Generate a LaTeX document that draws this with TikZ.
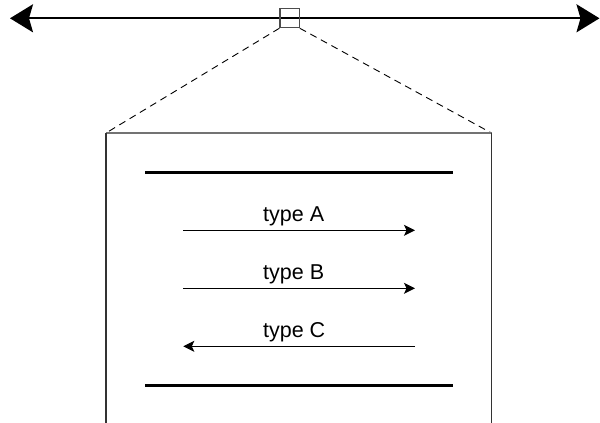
\documentclass[tikz,border=0pt]{standalone}
\usepackage{fontspec}
\setmainfont{Liberation Sans}
\usetikzlibrary{arrows.meta}
\begin{document}
\begin{tikzpicture}[x=1pt,y=-1pt,
  bigline/.style={line width=2pt,{Stealth[length=23pt,width=28pt,inset=4pt]}-{Stealth[length=23pt,width=28pt,inset=4pt]}},
  zoombox/.style={draw=black!70,line width=1.1pt,minimum width=19.3pt,minimum height=19.4pt,inner sep=0pt},
  zoomline/.style={line width=0.9pt,dash pattern=on 7pt off 5pt},
  side/.style={line width=1.2pt,draw=black!80},
  topedge/.style={line width=1.2pt,draw=black!55},
  wall/.style={line width=3pt},
  flow/.style={line width=1pt,-{Stealth[length=11pt,width=11pt,inset=2.5pt]}},
  lbl/.style={font=\fontsize{21.5}{26}\selectfont,anchor=base,inner sep=0pt}]
\useasboundingbox (0,0) rectangle (600,423);
\coordinate (L) at (10,18.3);
\coordinate (R) at (599.5,18.3);
\draw[bigline] (L) -- (R);
\node[zoombox] (zoom) at (289.6,18) {};
\coordinate (tl) at (106,133);
\coordinate (tr) at (491.5,133);
\coordinate (bl) at (106,423.5);
\coordinate (br) at (491.5,423.5);
\draw[zoomline] (zoom.south west) -- (tl);
\draw[zoomline] (zoom.south east) -- (tr);
\draw[topedge] (tl) -- (tr);
\draw[side] (tl) -- (bl);
\draw[side] (tr) -- (br);
\coordinate (w1a) at (145,172.3);
\coordinate (w1b) at (453.3,172.3);
\coordinate (w2a) at (145,385);
\coordinate (w2b) at (453.3,385);
\draw[wall] (w1a) -- (w1b);
\draw[wall] (w2a) -- (w2b);
\coordinate (a1) at (183.3,230.3);
\coordinate (a2) at (415,230.3);
\coordinate (b1) at (183.3,288.3);
\coordinate (b2) at (415,288.3);
\coordinate (c1) at (183.3,346.3);
\coordinate (c2) at (415,346.3);
\draw[flow] (a1) -- (a2);
\draw[flow] (b1) -- (b2);
\draw[flow] (c2) -- (c1);
\node[lbl] (ta) at (293.7,221.7) {type A};
\node[lbl] (tb) at (293.7,279.5) {type B};
\node[lbl] (tc) at (294.2,337) {type C};
\end{tikzpicture}
\end{document}
